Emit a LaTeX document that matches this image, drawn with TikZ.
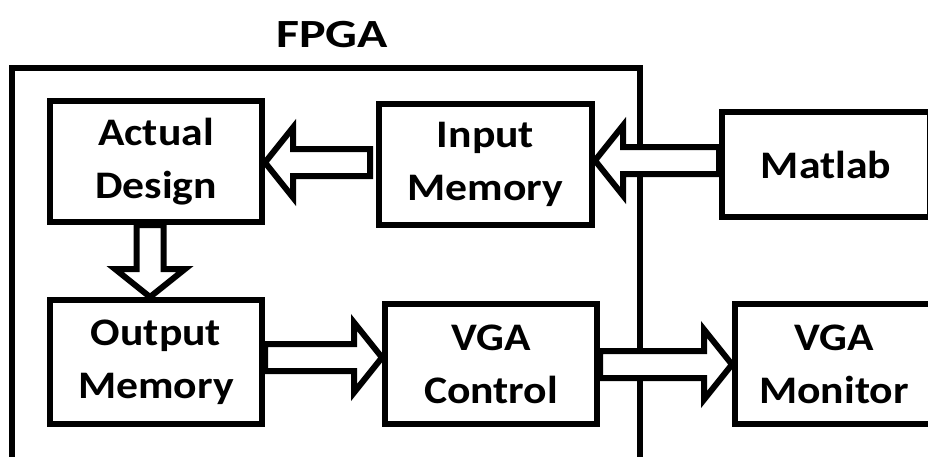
\documentclass[tikz,border=0pt]{standalone}
\usepackage{fontspec}
\setmainfont{Carlito}[FakeStretch=1.12]
\newfontfamily\fpgatitlefont{Carlito}[FakeStretch=1.25]
\usetikzlibrary{calc}
\newcommand{\bashaft}{13.5pt}
\newcommand{\bahead}{35pt}
% horizontal block arrow: tip, tail, signed head length
\newcommand{\harrowblk}[3]{%
  \draw[barrow] ([yshift=\bashaft]#2) -- ([xshift=#3,yshift=\bashaft]#1) -- ([xshift=#3,yshift=\bahead]#1) -- (#1)
    -- ([xshift=#3,yshift=-\bahead]#1) -- ([xshift=#3,yshift=-\bashaft]#1) -- ([yshift=-\bashaft]#2) -- cycle;}
% vertical block arrow: tip, tail, signed head length
\newcommand{\varrowblk}[3]{%
  \draw[barrow] ([xshift=\bashaft]#2) -- ([xshift=\bashaft,yshift=#3]#1) -- ([xshift=\bahead,yshift=#3]#1) -- (#1)
    -- ([xshift=-\bahead,yshift=#3]#1) -- ([xshift=-\bashaft,yshift=#3]#1) -- ([xshift=-\bashaft]#2) -- cycle;}
\begin{document}
\begin{tikzpicture}[x=1pt,y=-1pt,
  lbl/.style={font=\fontsize{39}{53}\selectfont\bfseries},
  box/.style={draw,line width=6pt,lbl,align=center,inner sep=0pt},
  barrow/.style={draw,fill=white,line width=6pt}]
\useasboundingbox (0,0) rectangle (928,456);
\clip (0,0) rectangle (928,456);
\node[draw,line width=6pt,minimum width=628pt,minimum height=440pt] (fpga) at (326,288) {};
\node[font=\fpgatitlefont\fontsize{40}{48}\selectfont\bfseries,anchor=base,inner sep=0pt] (title) at (332,47) {FPGA};
\node[box,minimum width=212pt,minimum height=121pt] (ad) at (156,161.5) {Actual\\Design};
\node[box,minimum width=213pt,minimum height=121pt] (im) at (485.5,164.5) {Input\\Memory};
\node[box,minimum width=208pt,minimum height=105pt] (ml) at (826,164.5) {Matlab};
\node[box,minimum width=212pt,minimum height=124pt] (om) at (156,362) {Output\\Memory};
\node[box,minimum width=212pt,minimum height=120pt] (vc) at (491,364) {VGA\\Control};
\node[box,minimum width=198pt,minimum height=120pt] (vm) at (834,364) {VGA\\Monitor};
% arrows
\coordinate (a1t) at (ad.east |- 0,162.5);
\coordinate (a1s) at ($(im.west |- 0,162.5)+(-6,0)$);
\harrowblk{a1t}{a1s}{28pt}
\coordinate (a2t) at (im.east |- 0,160.5);
\coordinate (a2s) at (ml.west |- 0,160.5);
\harrowblk{a2t}{a2s}{28pt}
\coordinate (a3t) at (om.north -| 150,0);
\coordinate (a3s) at (ad.south -| 150,0);
\varrowblk{a3t}{a3s}{28pt}
\coordinate (a4t) at (vc.west |- 0,357.5);
\coordinate (a4s) at (om.east |- 0,357.5);
\harrowblk{a4t}{a4s}{-28pt}
\coordinate (a5t) at (vm.west |- 0,364.5);
\coordinate (a5s) at (vc.east |- 0,364.5);
\harrowblk{a5t}{a5s}{-28pt}
\end{tikzpicture}
\end{document}
